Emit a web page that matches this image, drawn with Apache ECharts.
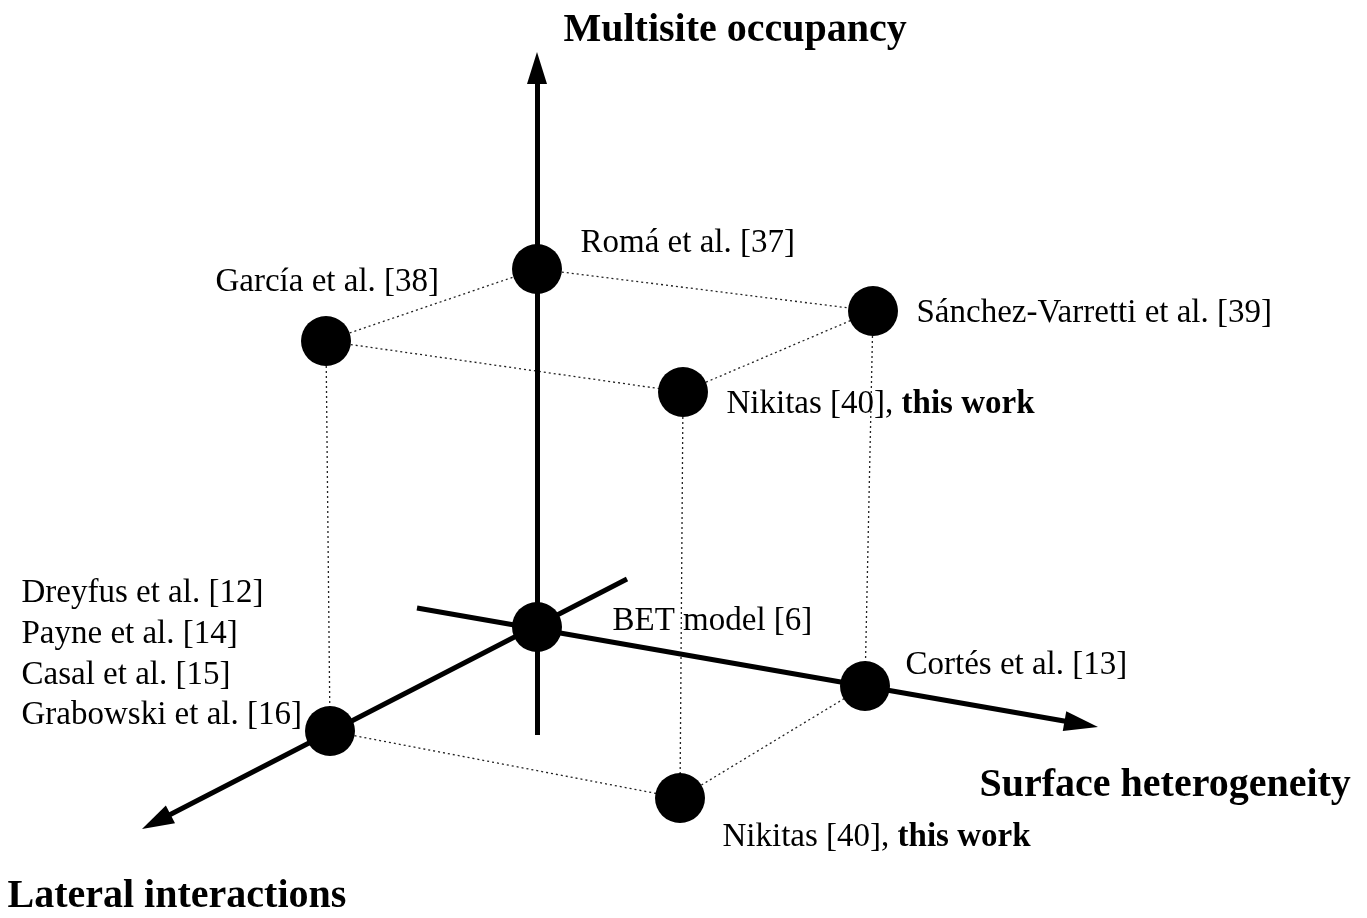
<!DOCTYPE html>
<html>
<head>
<meta charset="utf-8">
<title>Adsorption models cube</title>
<script src="https://cdn.jsdelivr.net/npm/echarts@6/dist/echarts.min.js"></script>
<style>
  html, body { margin: 0; padding: 0; background: #fff; }
  #cube { width: 1367px; height: 918px; }
</style>
</head>
<body>
<div id="cube"></div>
<script>
// corners of the cube (x right, y down)
const nodeNames = ['BET', 'Roma', 'Garcia', 'Sanchez', 'NikitasTop', 'Cortes', 'Grabowski', 'NikitasBottom'];
const nodeX = [537, 537, 326, 873, 683, 865, 330, 680];
const nodeY = [627, 269, 341, 311, 392, 686, 731, 798];

// dotted cube edges, as pairs of node indexes
const edges = [[2, 1], [1, 3], [2, 4], [4, 3], [2, 6], [4, 7], [3, 5], [6, 7], [7, 5]];

// the three thick axes: tail and arrow tip
const axisNames = ['Multisite occupancy', 'Surface heterogeneity', 'Lateral interactions'];
const axisTail = [[537, 735], [417, 608], [627, 579]];
const axisTip = [[537, 52], [1098, 727], [142, 829]];

// texts and where they start (left edge, middle)
const labelTexts = [
  '{t|Multisite occupancy}',
  'Romá et al. [37]',
  'García et al. [38]',
  'Sánchez-Varretti et al. [39]',
  'Nikitas [40], {b|this work}',
  'Dreyfus et al. [12]',
  'Payne et al. [14]',
  'Casal et al. [15]',
  'Grabowski et al. [16]',
  'BET model [6]',
  'Cortés et al. [13]',
  '{t|Surface heterogeneity}',
  'Nikitas [40], {b|this work}',
  '{t|Lateral interactions}'
];
const labelX = [563, 580, 215, 916, 726, 21, 21, 21, 21, 612, 905, 979, 722, 7];
const labelY = [31, 243, 282, 313, 404, 593, 634, 675, 715, 621, 665, 786, 837, 897];

const arrowLen = [32, 34, 32];
const arrowWidth = [20, 20, 20];

const chart = echarts.init(document.getElementById('cube'));

// pull the line end back by half the arrow so the triangle tip lands on the tip
let axisLines = axisTail.map((tail, i) => {
  let tip = axisTip[i];
  let dx = tip[0] - tail[0], dy = tip[1] - tail[1];
  let len = Math.sqrt(dx * dx + dy * dy);
  let back = arrowLen[i] / 2;
  return {
    name: axisNames[i],
    coords: [tail, [tip[0] - dx / len * back, tip[1] - dy / len * back]],
    symbolSize: [[0, 0], [arrowWidth[i], arrowLen[i]]]
  };
});

let edgeLines = edges.map(e => ({
  coords: [[nodeX[e[0]], nodeY[e[0]]], [nodeX[e[1]], nodeY[e[1]]]]
}));

let option = {
  animation: false,
  backgroundColor: '#fff',
  grid: { left: 0, right: 0, top: 0, bottom: 0 },
  xAxis: { type: 'value', min: 0, max: 1367, show: false },
  yAxis: { type: 'value', min: 0, max: 918, inverse: true, show: false },
  series: [
    {
      // dotted edges of the cube
      type: 'lines',
      coordinateSystem: 'cartesian2d',
      z: 1,
      silent: true,
      symbol: ['none', 'none'],
      lineStyle: { color: '#222', width: 1.3, type: [2, 3], opacity: 1, curveness: 0 },
      data: edgeLines
    },
    {
      // thick axes with arrows
      type: 'lines',
      coordinateSystem: 'cartesian2d',
      z: 2,
      silent: true,
      symbol: ['none', 'triangle'],
      lineStyle: { color: '#000', width: 5, type: 'solid', opacity: 1, curveness: 0 },
      itemStyle: { color: '#000', opacity: 1 },
      data: axisLines
    },
    {
      type: 'scatter',
      z: 3,
      silent: true,
      symbol: 'circle',
      symbolSize: 50,
      itemStyle: { color: '#000', opacity: 1 },
      data: nodeNames.map((n, i) => ({ name: n, value: [nodeX[i], nodeY[i]] }))
    },
    {
      // text only
      type: 'scatter',
      z: 4,
      silent: true,
      symbolSize: 1,
      itemStyle: { color: '#fff', opacity: 0 },
      label: {
        show: true,
        position: 'right',
        distance: 0,
        opacity: 1,
        color: '#000',
        fontFamily: 'Liberation Serif',
        fontSize: 33,
        formatter: p => labelTexts[p.dataIndex],
        rich: {
          b: { fontFamily: 'Liberation Serif', fontSize: 33, fontWeight: 'bold', color: '#000' },
          t: { fontFamily: 'Liberation Serif', fontSize: 40, fontWeight: 'bold', color: '#000' }
        }
      },
      data: labelTexts.map((t, i) => [labelX[i], labelY[i]])
    }
  ]
};

chart.setOption(option);
</script>
</body>
</html>
